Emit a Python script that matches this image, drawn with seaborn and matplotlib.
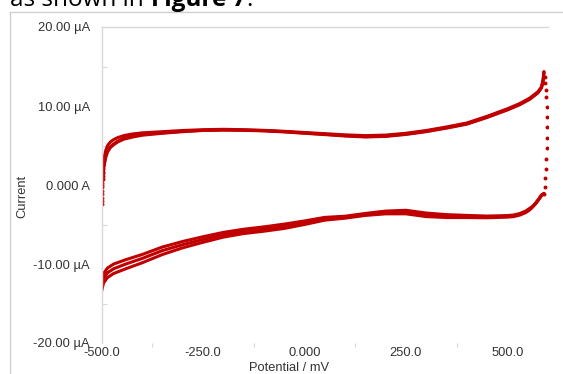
import matplotlib
matplotlib.use("Agg")
import matplotlib.pyplot as plt
from matplotlib.lines import Line2D
from matplotlib.ticker import FixedLocator
import pandas as pd
import seaborn as sns

# ---- cyclic voltammogram, three cycles (potential in mV, current in µA) ----
potential_fwd = [-500, -499, -498, -497, -496, -494, -490, -485, -478, -470,
                 -460, -445, -425, -400, -350, -300, -250, -200, -150, -100,
                 -50, 0, 50, 100, 150, 200, 250, 300, 350, 400,
                 450, 500, 530, 555, 575, 584, 588, 590]
current_fwd_1 = [-2.4, -0.7, 0.6, 1.6, 2.5, 3.3, 4.3, 5.0, 5.45, 5.75,
                 6.0, 6.25, 6.45, 6.6, 6.75, 6.9, 7.0, 7.05, 7.0, 6.92,
                 6.8, 6.65, 6.5, 6.35, 6.25, 6.32, 6.55, 6.9, 7.35, 7.85,
                 8.7, 9.65, 10.3, 11.0, 11.8, 12.4, 13.3, 14.35]
current_fwd_2 = [-1.7, -0.3, 0.2, 0.7, 1.5, 2.3, 3.4, 4.2, 4.75, 5.1,
                 5.45, 5.8, 6.05, 6.3, 6.55, 6.75, 6.9, 6.95, 6.92, 6.85,
                 6.72, 6.55, 6.38, 6.2, 6.08, 6.15, 6.4, 6.75, 7.2, 7.7,
                 8.55, 9.5, 10.15, 10.85, 11.65, 12.3, 13.2, 14.25]
current_fwd_3 = [-2.0, -1.1, 0.0, 1.1, 2.0, 2.5, 3.6, 4.35, 4.85, 5.2,
                 5.55, 5.9, 6.15, 6.4, 6.6, 6.8, 6.93, 6.98, 6.95, 6.88,
                 6.75, 6.58, 6.42, 6.25, 6.12, 6.2, 6.45, 6.8, 7.25, 7.75,
                 8.6, 9.55, 10.2, 10.9, 11.7, 12.35, 13.25, 14.3]

potential_rev = [590, 584, 578, 570, 562, 555, 545, 530, 515, 500,
                 450, 400, 350, 300, 250, 200, 150, 100, 50, 0,
                 -50, -100, -150, -200, -250, -300, -350, -400, -440, -470,
                 -485, -495, -500]
current_rev_1 = [-1.05, -1.25, -1.7, -2.25, -2.7, -2.95, -3.3, -3.62, -3.8, -3.87,
                 -3.93, -3.85, -3.75, -3.55, -3.2, -3.3, -3.6, -3.95, -4.1, -4.55,
                 -4.95, -5.3, -5.6, -6.0, -6.55, -7.15, -7.85, -8.8, -9.45, -10.0,
                 -10.5, -11.2, -12.3]
current_rev_2 = [-1.1, -1.3, -1.75, -2.3, -2.75, -3.05, -3.4, -3.72, -3.9, -3.97,
                 -4.05, -4.0, -3.95, -3.8, -3.45, -3.5, -3.75, -4.1, -4.3, -4.8,
                 -5.25, -5.6, -5.9, -6.3, -6.9, -7.55, -8.3, -9.3, -10.0, -10.6,
                 -11.1, -11.8, -12.9]
current_rev_3 = [-1.15, -1.35, -1.8, -2.35, -2.8, -3.15, -3.5, -3.82, -4.0, -4.07,
                 -4.15, -4.12, -4.12, -4.0, -3.65, -3.65, -3.85, -4.2, -4.45, -5.0,
                 -5.5, -5.85, -6.15, -6.6, -7.25, -7.95, -8.8, -9.85, -10.6, -11.2,
                 -11.7, -12.4, -13.5]

# sparse samples recorded while the current falls at the switching potential
potential_switch = [592, 593, 594, 596, 597, 597, 597, 597, 597, 596, 594, 593, 592, 590]
current_switch = [13.67, 12.91, 12.03, 11.14, 9.87, 8.61, 7.34, 5.95, 4.68, 3.29,
                  2.03, 0.89, -0.25, -1.14]

x_ticks = [-500, -250, 0, 250, 500]
x_tick_labels = ["-500.0", "-250.0", "0.000", "250.0", "500.0"]
y_ticks = [-20, -10, 0, 10, 20]
y_tick_labels = ["-20.00 µA", "-10.00 µA", "0.000 A", "10.00 µA", "20.00 µA"]

RED = "#C00000"
GREY = "#D9D9D9"
TEXT = "#333333"

sns.set_theme(style="white")
plt.rcParams["font.family"] = ["Liberation Sans", "DejaVu Sans"]

W, H = 563, 374
fig = plt.figure(figsize=(W / 100, H / 100), dpi=100)
ax = fig.add_axes([101.5 / W, 1 - 343 / H, (548 - 101.5) / W, 316 / H])

# continuous parts of each sweep; the first samples of each anodic sweep are sparse dots
N_SPARSE = 4
rows, dots = [], []
fwd_sets = [current_fwd_1, current_fwd_2, current_fwd_3]
rev_sets = [current_rev_1, current_rev_2, current_rev_3]
for c, (fwd, rev) in enumerate(zip(fwd_sets, rev_sets)):
    for k, (e, i) in enumerate(zip(potential_fwd, fwd)):
        if k >= N_SPARSE:
            rows.append({"E": e, "I": i, "seg": f"a{c}", "n": k})
        if k <= N_SPARSE:
            dots.append({"E": e, "I": i})
    for k, (e, i) in enumerate(zip(potential_rev, rev)):
        rows.append({"E": e, "I": i, "seg": f"c{c}", "n": k})
for e, i in zip(potential_switch, current_switch):
    dots.append({"E": e, "I": i})

lines = pd.DataFrame(rows)
points = pd.DataFrame(dots)

sns.lineplot(data=lines, x="E", y="I", units="seg", estimator=None, sort=False,
             color=RED, linewidth=2.2, legend=False, ax=ax)
sns.scatterplot(data=points, x="E", y="I", color=RED, s=8, linewidth=0,
                legend=False, ax=ax)

ax.set_xlim(-500, 600)
ax.set_ylim(-20, 20)

for side in ("bottom", "right"):
    ax.spines[side].set_visible(False)
for side in ("left", "top"):
    ax.spines[side].set_visible(True)
    ax.spines[side].set_color(GREY)
    ax.spines[side].set_linewidth(1.0)

ax.set_xticks(x_ticks)
ax.set_xticklabels(x_tick_labels)
ax.set_yticks(y_ticks)
ax.set_yticklabels(y_tick_labels)
ax.xaxis.set_minor_locator(FixedLocator([-375, -125, 125, 375]))
ax.yaxis.set_minor_locator(FixedLocator([-15, -5, 5, 15]))

ax.tick_params(axis="x", which="major", length=0, pad=3.0, labelsize=9.3, labelcolor=TEXT)
ax.tick_params(axis="y", which="major", length=0, pad=8.3, labelsize=9.3, labelcolor=TEXT)
ax.tick_params(axis="x", which="minor", bottom=True, direction="out", length=3,
               width=0.8, color=GREY)
ax.tick_params(axis="y", which="minor", left=True, direction="in", length=3.5,
               width=0.8, color=GREY)
ax.grid(False)

ax.set_xlabel("Potential / mV", fontsize=9.3, color=TEXT, va="center")
ax.xaxis.set_label_coords((289 - 101.5) / 446.5, -(368 - 343) / 316)
ax.set_ylabel("Current", fontsize=9.3, color=TEXT, va="center")
ax.yaxis.set_label_coords((22 - 101.5) / 446.5, (343 - 196) / 316)

# chart frame
fig.add_artist(Line2D([9.5 / W, 1.0], [1 - 11.5 / H, 1 - 11.5 / H],
                      transform=fig.transFigure, color="#D0D0D0", linewidth=1.0))
fig.add_artist(Line2D([9.5 / W, 9.5 / W], [0.0, 1 - 11.5 / H],
                      transform=fig.transFigure, color="#D0D0D0", linewidth=1.0))

# running text of the page above the chart
renderer = fig.canvas.get_renderer()
x0 = 10.5 / W
yb = 1 - 6.5 / H
pieces = [("as shown in", "normal"), ("Figure 7", "bold"), (".", "normal")]
for txt, weight in pieces:
    t = fig.text(x0, yb, txt, fontsize=17.5, fontweight=weight, color="black",
                 family=["Open Sans", "DejaVu Sans"], va="baseline", ha="left")
    bb = t.get_window_extent(renderer=renderer)
    x0 = bb.x1 / fig.bbox.width
    if txt == "as shown in":
        x0 += 6.5 / W

fig.savefig("out.png", dpi=100)
